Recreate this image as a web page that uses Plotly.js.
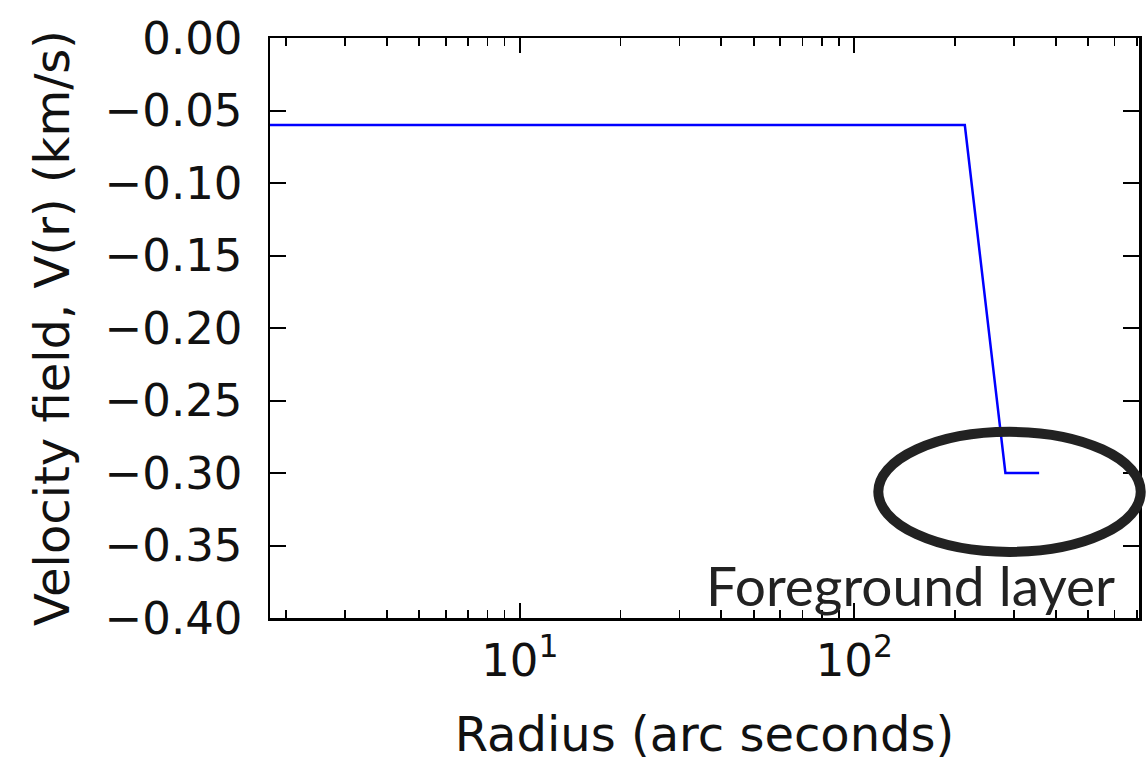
<!DOCTYPE html>
<html>
<head>
<meta charset="utf-8">
<script src="https://cdn.plot.ly/plotly-3.0.1.min.js"></script>
<style>html,body{margin:0;padding:0;background:#fff;}#chart{width:1146px;height:762px;}</style>
</head>
<body>
<div id="chart"></div>
<script>
// Data
const radius = [1.79, 214, 283, 357];
const velocity = [-0.06, -0.06, -0.30, -0.30];
const yTicks = [0, -0.05, -0.10, -0.15, -0.20, -0.25, -0.30, -0.35, -0.40];
const xTickVals = [10, 100];
const xTickText = ["10<sup>1</sup>", "10<sup>2</sup>"];
const xMinorVals = [2, 3, 4, 5, 6, 7, 8, 9, 20, 30, 40, 50, 60, 70, 80, 90, 200, 300, 400, 500, 600, 700];
const annotationText = "Foreground layer";
const xTitle = "Radius (arc seconds)";
const yTitle = "Velocity field, V(r) (km/s)";

function tickFont() { return {family: "DejaVu Sans", size: 45, color: "#111"}; }
function titleFont() { return {family: "DejaVu Sans", size: 48, color: "#111"}; }

const trace = {
  x: radius, y: velocity, type: "scatter", mode: "lines",
  line: {color: "#0000ff", width: 2.5}, hoverinfo: "skip"
};

const xRange = [Math.log10(1.79), Math.log10(710)];

const layout = {
  width: 1146, height: 762,
  margin: {l: 270, r: 7, t: 38, b: 144},
  paper_bgcolor: "#fff", plot_bgcolor: "#fff",
  showlegend: false,
  font: {family: "DejaVu Sans", size: 45, color: "#111"},
  xaxis: {
    type: "log", range: xRange,
    tickmode: "array", tickvals: xTickVals, ticktext: xTickText,
    ticks: "inside", ticklen: 15, tickwidth: 2, tickcolor: "#000",
    minor: {tickmode: "array", tickvals: xMinorVals, ticks: "inside", ticklen: 8, tickwidth: 1.8, tickcolor: "#000", showgrid: false},
    showgrid: false, zeroline: false,
    showline: true, linecolor: "#000", linewidth: 2.5, mirror: "allticks",
    tickfont: tickFont(), ticklabelstandoff: 1,
    title: {text: xTitle, font: titleFont(), standoff: 32}
  },
  yaxis: {
    range: [-0.40, 0.0],
    tickmode: "array", tickvals: yTicks, tickformat: ".2f",
    ticks: "inside", ticklen: 16, tickwidth: 2, tickcolor: "#000",
    showgrid: false, zeroline: false,
    showline: true, linecolor: "#000", linewidth: 2.5, mirror: "allticks",
    tickfont: tickFont(), ticklabelstandoff: 16,
    title: {text: yTitle, font: titleFont(), standoff: 20}
  },
  shapes: [{
    type: "circle", xref: "paper", yref: "paper",
    x0: 0.700, x1: 1.002, y0: 0.114, y1: 0.321,
    line: {color: "#222", width: 10}
  }],
  annotations: [{
    xref: "paper", yref: "paper", x: 0.737, y: 0.057,
    xanchor: "center", yanchor: "middle", showarrow: false,
    text: annotationText,
    font: {family: "Lato", size: 55, color: "#222"}
  }]
};

Plotly.newPlot("chart", [trace], layout, {staticPlot: true});
</script>
</body>
</html>
